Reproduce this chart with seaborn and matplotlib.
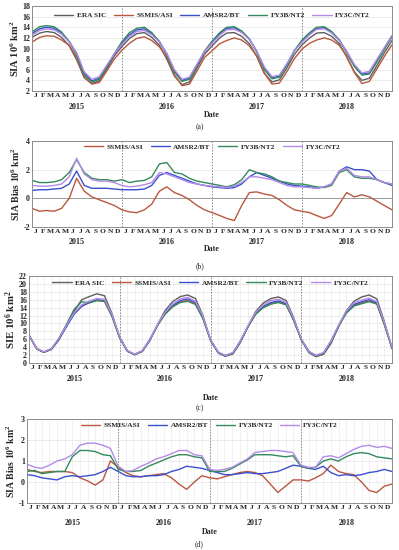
import numpy as np
import pandas as pd
import matplotlib
matplotlib.use("Agg")
import matplotlib.pyplot as plt
import matplotlib.transforms as mtrans
import seaborn as sns

# ---------------- data (month starts, Jan 2015 .. Jan 2019) ----------------
dates = pd.date_range("2015-01-01", "2019-01-01", freq="MS")
month_letters = ["J", "F", "M", "A", "M", "J", "J", "A", "S", "O", "N", "D"]
years = ["2015", "2016", "2017", "2018"]

# Panel (a): SIA 10^6 km^2
era_a = [12.1, 12.9, 13.2, 13.0, 12.1, 10.5, 7.9, 4.5, 3.4, 3.9, 6.2, 8.6,
         10.4, 11.9, 12.8, 13.0, 12.1, 10.6, 8.0, 4.8, 3.2, 3.7, 6.4, 8.9,
         10.5, 12.0, 12.9, 13.0, 12.3, 10.9, 8.5, 5.3, 3.7, 4.1, 6.4, 8.9,
         10.7, 12.0, 12.9, 13.0, 12.3, 10.9, 8.4, 5.6, 4.0, 4.4, 6.8, 9.2, 11.5]
ssmis_a = [11.2, 12.1, 12.4, 12.3, 11.6, 10.6, 8.3, 4.6, 3.3, 3.6, 5.8, 8.0,
           9.7, 11.0, 11.9, 12.2, 11.5, 10.3, 8.4, 5.0, 3.0, 3.3, 5.8, 8.3,
           9.6, 10.9, 11.5, 12.0, 11.6, 10.5, 8.6, 5.4, 3.3, 3.5, 5.7, 8.1,
           9.9, 11.0, 11.6, 12.0, 11.6, 10.6, 8.6, 5.5, 3.4, 3.8, 6.2, 8.5, 10.7]
amsr2_a = [12.8, 13.7, 14.0, 13.8, 12.9, 11.3, 9.1, 5.3, 3.9, 4.4, 6.6, 8.9,
           11.0, 12.6, 13.5, 13.7, 12.8, 11.3, 9.0, 5.8, 4.0, 4.4, 6.9, 9.4,
           11.2, 12.8, 13.8, 13.9, 13.2, 11.8, 9.5, 6.3, 4.5, 4.8, 7.0, 9.6,
           11.4, 12.8, 13.8, 13.9, 13.1, 11.6, 9.4, 6.8, 5.2, 5.4, 7.6, 9.9, 12.3]
fy3b_a = [13.1, 14.1, 14.3, 14.1, 13.1, 11.3, 8.8, 5.0, 3.7, 4.2, 6.6, 9.0,
          11.3, 13.0, 13.8, 14.0, 13.0, 11.3, 8.8, 5.5, 3.8, 4.2, 6.9, 9.5,
          11.4, 13.0, 14.0, 14.1, 13.3, 11.8, 9.3, 6.0, 4.3, 4.6, 7.0, 9.6,
          11.6, 13.0, 14.0, 14.1, 13.2, 11.6, 9.2, 6.6, 5.0, 5.2, 7.5, 9.9, 12.2]
fy3c_a = [12.5, 13.4, 13.7, 13.5, 12.7, 11.2, 9.2, 5.6, 4.2, 4.7, 6.9, 9.0,
          10.8, 12.3, 13.2, 13.4, 12.6, 11.2, 9.1, 6.0, 4.2, 4.6, 7.1, 9.4,
          11.0, 12.5, 13.5, 13.6, 13.0, 11.7, 9.5, 6.5, 4.7, 5.0, 7.2, 9.6,
          11.2, 12.6, 13.6, 13.7, 12.9, 11.5, 9.5, 7.0, 5.4, 5.7, 8.0, 10.2, 12.5]

# Panel (b): SIA bias 10^6 km^2
ssmis_b = [-0.7, -0.9, -0.85, -0.9, -0.7, 0.0, 1.4, 0.5, 0.1, -0.1, -0.3, -0.5,
           -0.8, -0.95, -1.0, -0.8, -0.4, 0.5, 0.8, 0.4, 0.2, -0.1, -0.5, -0.8,
           -1.0, -1.2, -1.4, -1.55, -0.5, 0.4, 0.45, 0.3, 0.2, -0.1, -0.5, -0.8,
           -0.9, -1.0, -1.2, -1.4, -1.2, -0.4, 0.4, 0.1, 0.25, 0.1, -0.2, -0.5, -0.8]
amsr2_b = [0.55, 0.6, 0.6, 0.65, 0.7, 1.0, 1.9, 0.9, 0.7, 0.7, 0.7, 0.65,
           0.6, 0.6, 0.6, 0.65, 0.9, 1.6, 1.8, 1.6, 1.4, 1.2, 1.0, 0.9,
           0.8, 0.75, 0.7, 0.75, 1.0, 1.5, 1.8, 1.6, 1.4, 1.2, 1.0, 0.9,
           0.85, 0.8, 0.7, 0.8, 1.0, 1.9, 2.2, 2.0, 2.0, 1.9, 1.3, 1.1, 0.9]
fy3b_b = [1.25, 1.1, 1.1, 1.15, 1.3, 1.8, 2.7, 1.8, 1.4, 1.3, 1.3, 1.2,
          1.3, 1.1, 1.2, 1.25, 1.5, 2.4, 2.5, 1.8, 1.7, 1.4, 1.2, 1.1,
          1.0, 0.9, 0.8, 0.95, 1.3, 2.0, 1.8, 1.7, 1.5, 1.2, 1.1, 1.0,
          1.0, 0.9, 0.8, 0.75, 0.9, 1.8, 2.0, 1.5, 1.4, 1.4, 1.3, 1.1, 1.0]
fy3c_b = [0.9, 0.85, 0.85, 0.9, 1.0, 1.5, 2.8, 1.7, 1.3, 1.2, 1.2, 1.1,
          0.9, 0.8, 0.85, 0.95, 1.1, 1.8, 1.7, 1.5, 1.3, 1.1, 1.0, 0.9,
          0.85, 0.8, 0.75, 0.85, 1.1, 1.5, 1.5, 1.4, 1.3, 1.1, 0.9, 0.8,
          0.8, 0.75, 0.7, 0.8, 1.0, 1.9, 2.1, 1.6, 1.5, 1.5, 1.3, 1.1, 1.0]

# Panel (c): SIE 10^6 km^2
era_c = [7.0, 3.6, 2.7, 3.4, 5.8, 9.4, 13.0, 16.0, 16.8, 17.5, 17.0, 12.5,
         6.3, 3.0, 2.1, 2.9, 5.6, 9.6, 13.2, 15.5, 16.8, 17.2, 16.3, 12.0,
         5.6, 2.5, 1.7, 2.3, 5.2, 9.3, 13.0, 15.2, 16.3, 16.7, 15.8, 11.5,
         5.8, 2.6, 1.6, 2.2, 5.0, 9.3, 13.2, 15.6, 16.7, 17.2, 16.2, 10.5, 3.6]
ssmis_c = [7.0, 3.7, 2.8, 3.6, 6.1, 9.3, 12.4, 14.5, 15.3, 15.8, 15.6, 11.8,
           6.4, 3.1, 2.2, 3.1, 5.9, 9.5, 12.4, 14.3, 15.5, 15.8, 15.0, 11.3,
           5.7, 2.7, 1.9, 2.6, 5.6, 9.3, 12.4, 14.1, 15.0, 15.4, 14.8, 10.8,
           5.9, 2.9, 1.9, 2.6, 5.6, 9.5, 12.7, 14.6, 15.2, 15.7, 15.0, 9.8, 3.8]
amsr2_c = [7.0, 3.6, 2.7, 3.5, 6.0, 9.2, 12.3, 14.3, 15.3, 16.0, 15.8, 12.0,
           6.5, 3.0, 2.1, 3.0, 5.8, 9.5, 12.5, 14.5, 15.8, 16.2, 15.3, 11.5,
           5.8, 2.6, 1.8, 2.5, 5.5, 9.3, 12.5, 14.3, 15.3, 15.7, 15.0, 11.0,
           6.0, 2.8, 1.8, 2.5, 5.5, 9.5, 12.8, 14.8, 15.5, 16.0, 15.2, 10.0, 3.8]
fy3b_c = [7.0, 3.6, 2.7, 3.5, 6.2, 9.8, 13.5, 15.5, 15.2, 15.8, 15.6, 11.8,
          6.4, 3.0, 2.1, 3.0, 5.9, 9.5, 12.3, 14.2, 15.3, 15.6, 14.8, 11.2,
          5.7, 2.6, 1.8, 2.5, 5.5, 9.2, 12.3, 14.0, 14.9, 15.3, 14.7, 10.8,
          5.9, 2.8, 1.8, 2.5, 5.5, 9.4, 12.6, 14.4, 15.0, 15.5, 14.9, 9.8, 3.8]
fy3c_c = [7.1, 3.7, 2.8, 3.6, 6.2, 9.5, 12.6, 14.7, 15.7, 16.3, 16.1, 12.3,
          6.6, 3.1, 2.2, 3.1, 5.9, 9.7, 12.8, 14.9, 16.2, 16.6, 15.6, 11.8,
          5.9, 2.7, 1.9, 2.6, 5.6, 9.5, 12.8, 14.7, 15.8, 16.1, 15.3, 11.3,
          6.1, 2.9, 1.9, 2.6, 5.6, 9.7, 13.1, 15.2, 15.9, 16.4, 15.5, 10.3, 4.0]

# Panel (d): bias 10^6 km^2
ssmis_d = [0.6, 0.5, 0.45, 0.5, 0.5, 0.5, 0.45, 0.2, 0.05, -0.15, 0.1, 1.0,
           0.7, 0.45, 0.3, 0.25, 0.3, 0.35, 0.4, 0.2, -0.1, -0.35, 0.0, 0.3,
           0.2, 0.15, 0.25, 0.35, 0.45, 0.5, 0.45, 0.3, -0.1, -0.5, -0.2, 0.1,
           0.1, 0.05, 0.2, 0.4, 0.8, 0.5, 0.4, 0.35, 0.0, -0.4, -0.5, -0.2, -0.1]
amsr2_d = [0.35, 0.3, 0.2, 0.15, 0.1, 0.25, 0.3, 0.25, 0.3, 0.35, 0.5, 0.7,
           0.5, 0.3, 0.25, 0.25, 0.3, 0.3, 0.35, 0.5, 0.6, 0.75, 0.7, 0.65,
           0.55, 0.45, 0.35, 0.35, 0.4, 0.45, 0.4, 0.4, 0.45, 0.5, 0.65, 0.8,
           0.75, 0.65, 0.6, 0.75, 0.45, 0.3, 0.35, 0.3, 0.35, 0.45, 0.5, 0.6, 0.5]
fy3b_d = [0.5, 0.55, 0.4, 0.45, 0.5, 0.5, 1.2, 1.5, 1.5, 1.45, 1.3, 1.25,
          0.6, 0.5, 0.5, 0.55, 0.75, 0.9, 1.05, 1.2, 1.3, 1.3, 1.2, 1.15,
          0.5, 0.5, 0.5, 0.65, 0.85, 1.05, 1.3, 1.3, 1.3, 1.25, 1.2, 1.25,
          0.75, 0.65, 0.7, 1.0, 1.1, 1.0, 1.2, 1.35, 1.4, 1.35, 1.2, 1.15, 1.1]
fy3c_d = [0.85, 0.7, 0.65, 0.8, 1.0, 1.1, 1.3, 1.75, 1.85, 1.85, 1.75, 1.6,
          0.75, 0.5, 0.55, 0.75, 0.9, 1.1, 1.2, 1.35, 1.5, 1.5, 1.3, 1.25,
          0.6, 0.55, 0.6, 0.7, 0.9, 1.1, 1.4, 1.45, 1.5, 1.5, 1.45, 1.4,
          0.8, 0.7, 0.7, 1.2, 1.25, 1.15, 1.35, 1.55, 1.7, 1.75, 1.65, 1.7, 1.6]

colors = {"ERA SIC": "#5c5f5e", "SSMIS/ASI": "#b9583f", "AMSR2/BT": "#3a4fcf",
          "FY3B/NT2": "#338a5c", "FY3C/NT2": "#b58ae8"}

# ---------------- style ----------------
sns.set_style("white")
plt.rcParams["font.family"] = ["Liberation Serif", "DejaVu Serif"]
plt.rcParams["mathtext.fontset"] = "custom"
plt.rcParams["mathtext.rm"] = "Liberation Serif:bold"
plt.rcParams["mathtext.it"] = "Liberation Serif:bold"
plt.rcParams["mathtext.bf"] = "Liberation Serif:bold"

fig = plt.figure(figsize=(3.99, 5.5), dpi=100)
W, H = 399.0, 550.0

def rect(l, t, r, b):
    return [l / W, 1 - b / H, (r - l) / W, (b - t) / H]

panels = [
    dict(rect=rect(32, 6, 392, 91), series={"ERA SIC": era_a, "SSMIS/ASI": ssmis_a, "AMSR2/BT": amsr2_a,
                                           "FY3B/NT2": fy3b_a, "FY3C/NT2": fy3c_a},
         ylim=(2, 18), yticks=np.arange(2, 19, 2), ylabel="SIA 10$^6$ km$^2$", ylfs=7.5,
         month_y=96, year_y=107, date_y=115, cap="(a)", cap_y=127, leg_y=15, zero=False, vgrid=False),
    dict(rect=rect(32, 141, 392, 227), series={"SSMIS/ASI": ssmis_b, "AMSR2/BT": amsr2_b,
                                              "FY3B/NT2": fy3b_b, "FY3C/NT2": fy3c_b},
         ylim=(-2, 4), yticks=[-2, 0, 2, 4], ylabel="SIA Bias 10$^6$ km$^2$", ylfs=7.0,
         month_y=231, year_y=242, date_y=249, cap="(b)", cap_y=266, leg_y=147, zero=True, vgrid=False),
    dict(rect=rect(29, 276, 392, 363), series={"ERA SIC": era_c, "SSMIS/ASI": ssmis_c, "AMSR2/BT": amsr2_c,
                                              "FY3B/NT2": fy3b_c, "FY3C/NT2": fy3c_c},
         ylim=(0, 22), yticks=np.arange(0, 23, 2), ylabel="SIE 10$^6$ km$^2$", ylfs=7.8,
         month_y=368, year_y=379, date_y=398, cap="(c)", cap_y=408, leg_y=283, zero=False, vgrid=True),
    dict(rect=rect(27, 419, 392, 503), series={"SSMIS/ASI": ssmis_d, "AMSR2/BT": amsr2_d,
                                              "FY3B/NT2": fy3b_d, "FY3C/NT2": fy3c_d},
         ylim=(-1, 3), yticks=[-1, 0, 1, 2, 3], ylabel="SIA Bias 10$^6$ km$^2$", ylfs=7.0,
         month_y=509, year_y=523, date_y=532, cap="(d)", cap_y=544, leg_y=425, zero=False, vgrid=True),
]

month_starts = pd.date_range("2015-01-01", "2019-01-01", freq="MS")
mid_months = pd.date_range("2015-01-01", periods=48, freq="MS") + pd.Timedelta(days=15)
year_bounds = [pd.Timestamp("2016-01-01"), pd.Timestamp("2017-01-01"), pd.Timestamp("2018-01-01")]
mid_years = [pd.Timestamp(f"{y}-07-02") for y in years]

for p in panels:
    ax = fig.add_axes(p["rect"])
    frames = []
    for name, vals in p["series"].items():
        frames.append(pd.DataFrame({"date": dates, "value": vals, "product": name}))
    df = pd.concat(frames, ignore_index=True)
    names = list(p["series"].keys())
    sns.lineplot(data=df, x="date", y="value", hue="product", hue_order=names,
                 palette=[colors[n] for n in names], ax=ax, linewidth=1.0, legend=False)

    ax.set_xlim(pd.Timestamp("2015-01-01"), pd.Timestamp("2019-01-01"))
    ax.set_ylim(*p["ylim"])
    ax.set_yticks(p["yticks"])
    ax.set_yticklabels([str(int(v)) for v in p["yticks"]], fontsize=5.8, fontweight="bold")
    ax.set_xticks(month_starts)
    ax.set_xticklabels([])
    ax.set_xticks(mid_months, minor=True)
    ax.set_xticklabels(month_letters * 4, minor=True, fontsize=5.4, fontweight="bold")
    ax.tick_params(axis="x", which="both", length=0, pad=1.5)
    ax.tick_params(axis="y", length=0, pad=1.5)
    ax.grid(True, axis="y", which="major", color="#e3e3e3", linewidth=0.5)
    if p["vgrid"]:
        ax.grid(True, axis="x", which="major", color="#ececec", linewidth=0.5)
    for yb in year_bounds:
        ax.axvline(yb, color="#8a8a8a", linestyle=(0, (1.5, 1.5)), linewidth=0.7, zorder=1)
    if p["zero"]:
        ax.axhline(0, color="#9a9a9a", linewidth=0.7, zorder=1)
    for s in ax.spines.values():
        s.set_color("#8c8c8c")
        s.set_linewidth(0.7)
    ax.set_xlabel("")
    ax.set_ylabel(p["ylabel"], fontsize=p["ylfs"], fontweight="bold", labelpad=1)

    trans = mtrans.blended_transform_factory(ax.transData, fig.transFigure)
    for yl, xm in zip(years, mid_years):
        ax.text(xm, 1 - p["year_y"] / H, yl, transform=trans, ha="center", va="center",
                fontsize=5.8, fontweight="bold")
    pos = ax.get_position()
    xc = pos.x0 + pos.width / 2
    fig.text(xc, 1 - p["date_y"] / H, "Date", ha="center", va="center", fontsize=5.8, fontweight="bold")
    fig.text(0.5, 1 - p["cap_y"] / H, p["cap"], ha="center", va="center", fontsize=5.5)

    handles = [plt.Line2D([], [], color=colors[n], linewidth=1.0) for n in names]
    leg = ax.legend(handles, names, ncol=len(names), loc="center",
                    bbox_to_anchor=(0.5, 1 - (p["leg_y"] - (H - (pos.y1) * H)) / (pos.height * H)),
                    frameon=False, fontsize=5.3, handlelength=2.6, columnspacing=1.0,
                    handletextpad=0.5, borderaxespad=0)
    for t in leg.get_texts():
        t.set_fontweight("bold")

fig.savefig("out.png", dpi=100)
